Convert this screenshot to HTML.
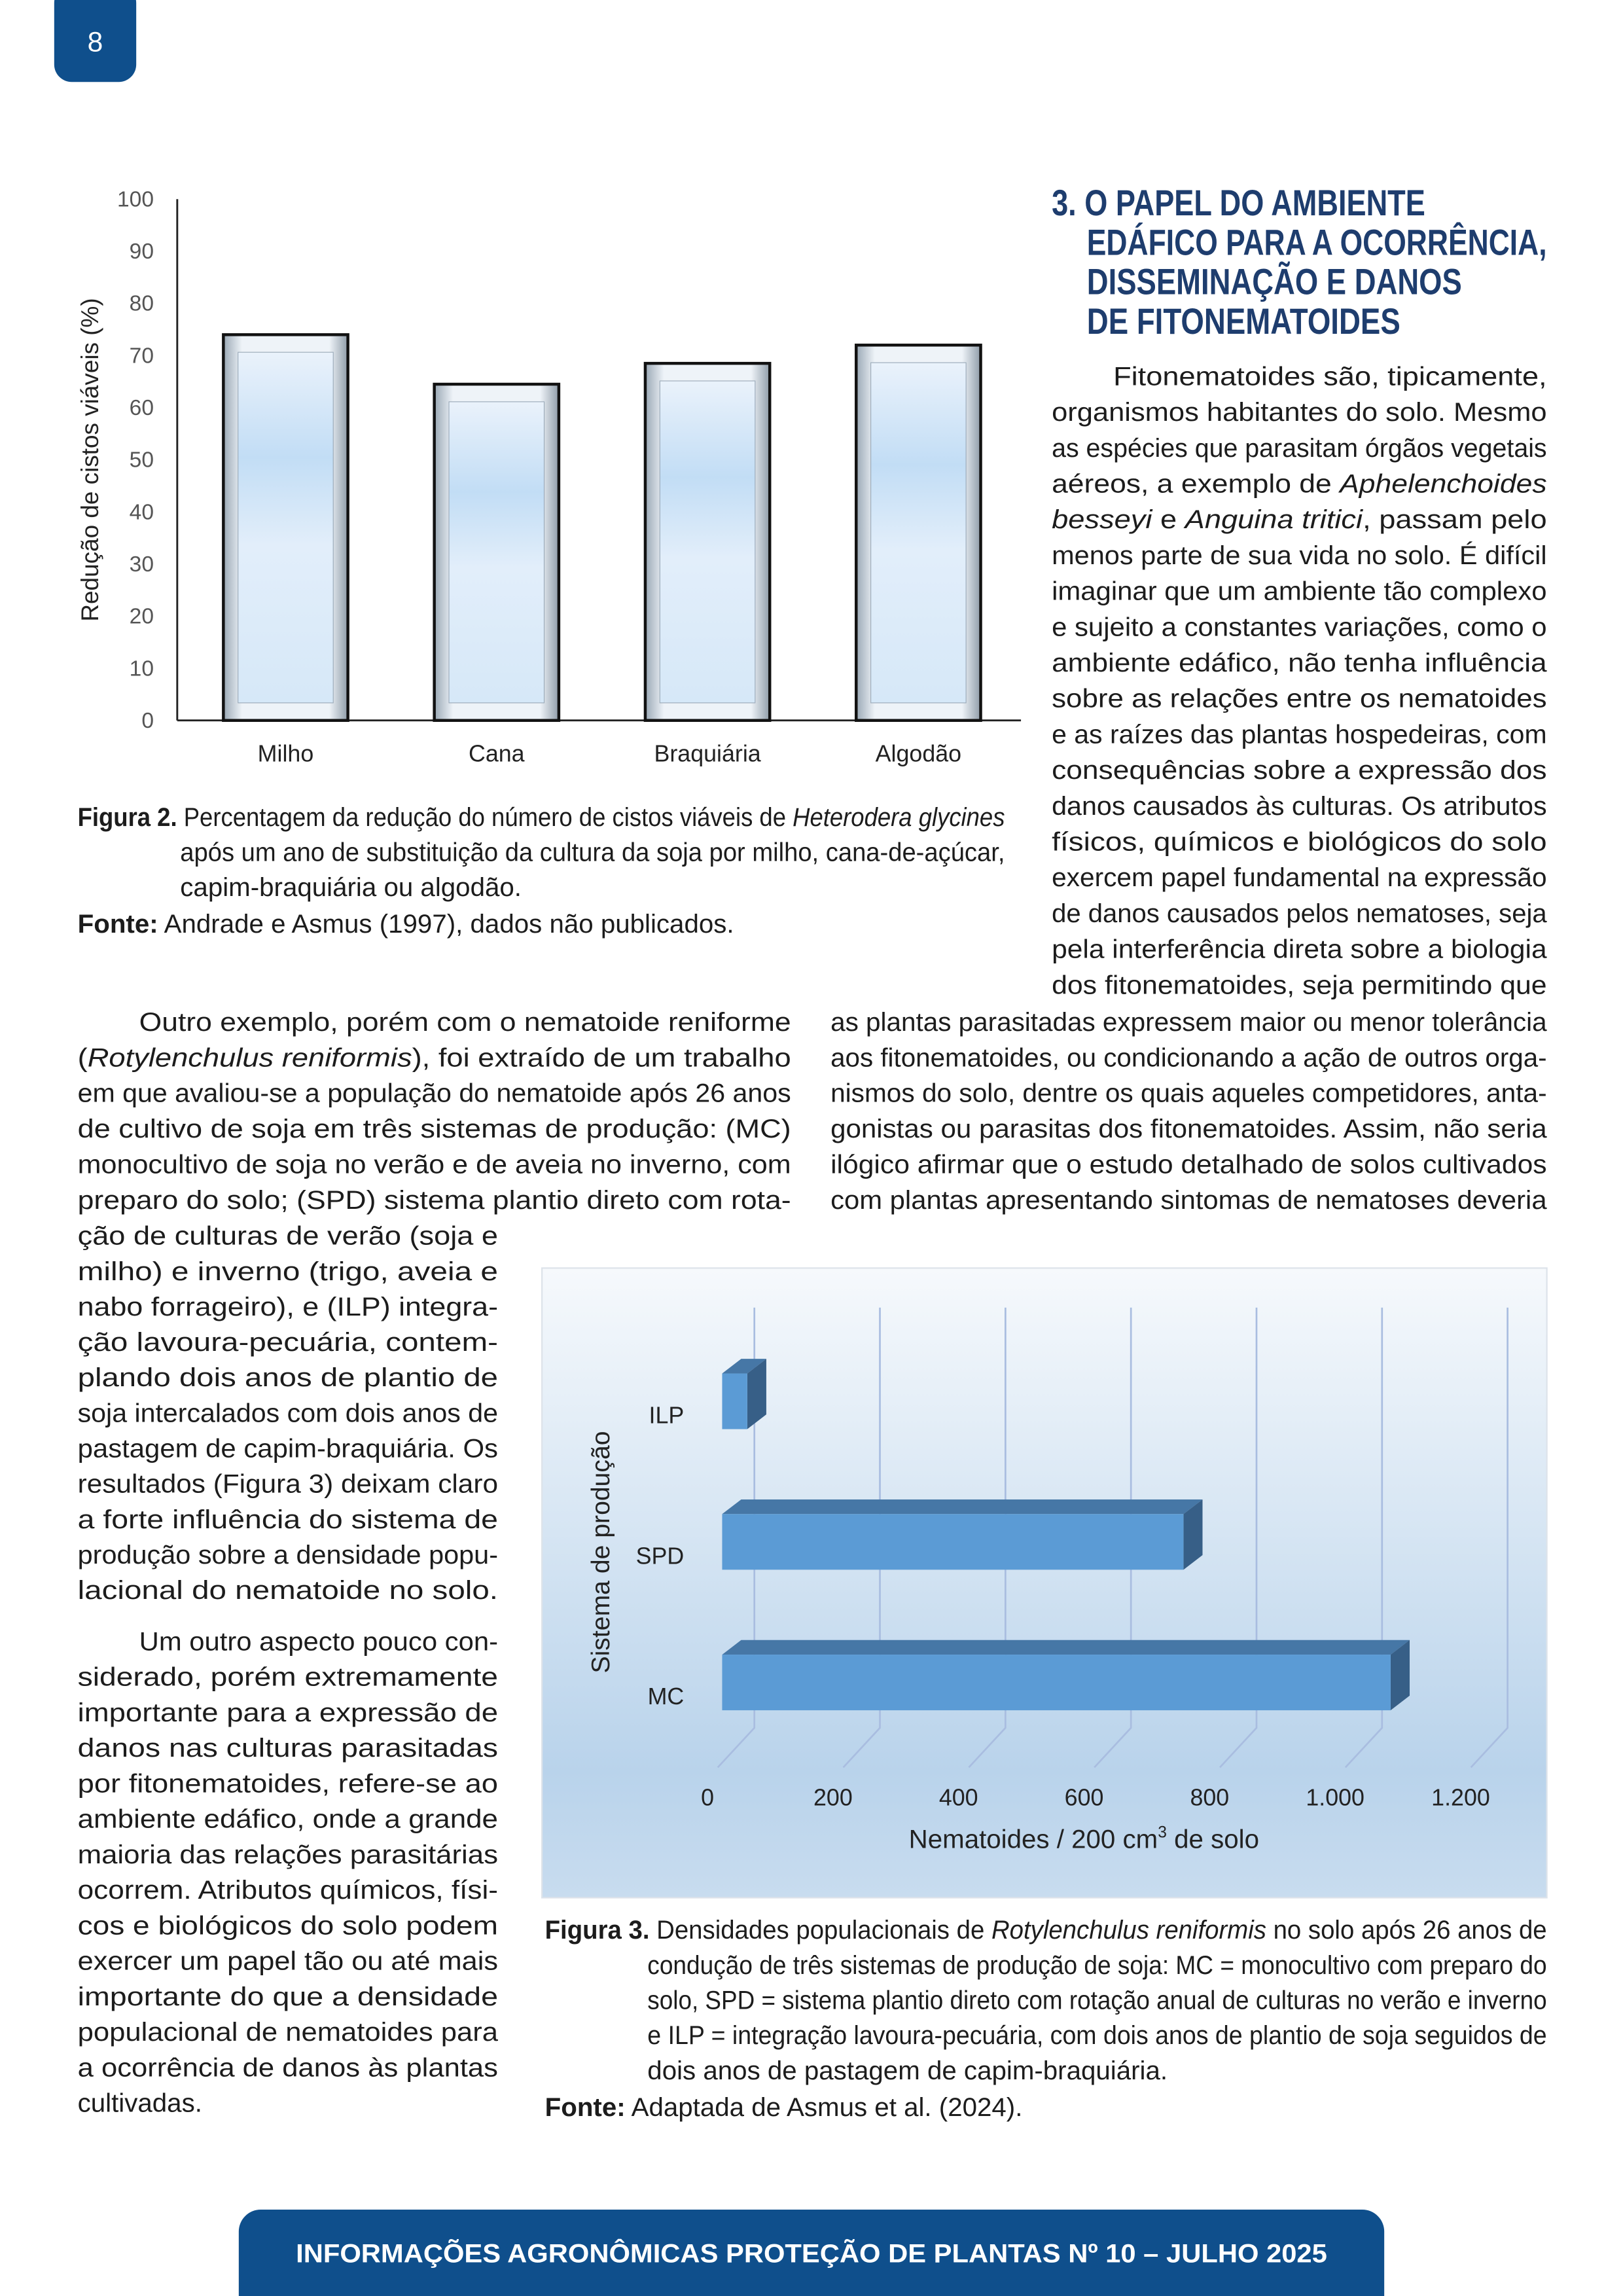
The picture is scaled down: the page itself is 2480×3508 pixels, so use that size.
<!DOCTYPE html>
<html><head><meta charset="utf-8"><style>
html,body{margin:0;padding:0;background:#fff}
svg{display:block}
.b{font-family:"Liberation Sans",sans-serif;font-size:18px;fill:#1c1c1c}
</style></head><body>
<svg id="pg" width="2480" height="3508" viewBox="0 0 1108 1568" preserveAspectRatio="none" xmlns="http://www.w3.org/2000/svg">
<defs>
<linearGradient id="bg2" x1="0" y1="0" x2="0" y2="1"><stop offset="0" stop-color="#f6f9fc"/><stop offset="0.8" stop-color="#b9d3eb"/><stop offset="1" stop-color="#c8dcef"/></linearGradient>
<linearGradient id="barIn" x1="0" y1="0" x2="0" y2="1"><stop offset="0" stop-color="#eaf2fb"/><stop offset="0.3" stop-color="#c2ddf5"/><stop offset="0.55" stop-color="#e2eefa"/><stop offset="1" stop-color="#d6e8f8"/></linearGradient>
<linearGradient id="barEdge" x1="0" y1="0" x2="1" y2="0"><stop offset="0" stop-color="#9aa8b5"/><stop offset="0.15" stop-color="#eef3f8"/><stop offset="0.85" stop-color="#eef3f8"/><stop offset="1" stop-color="#8f9ca8"/></linearGradient>
</defs>
<rect x="37" y="-10" width="56" height="66" rx="12" fill="#0f4f8c"/>
<text x="65" y="35" text-anchor="middle" font-family="Liberation Sans" font-size="19" fill="#fff">8</text>

<g id="chart1"></g>
<g id="chart2"></g>
<g id="txt"></g>

<g font-family="Liberation Sans Narrow,Liberation Sans,sans-serif" font-weight="bold" font-size="25" fill="#1e3d6e">
<text x="718" y="147" textLength="255" lengthAdjust="spacingAndGlyphs">3. O PAPEL DO AMBIENTE</text>
<text x="742" y="174" textLength="314" lengthAdjust="spacingAndGlyphs">EDÁFICO PARA A OCORRÊNCIA,</text>
<text x="742" y="201" textLength="256" lengthAdjust="spacingAndGlyphs">DISSEMINAÇÃO E DANOS</text>
<text x="742" y="228" textLength="214" lengthAdjust="spacingAndGlyphs">DE FITONEMATOIDES</text>
</g>

<path d="M163 1568 V1524 a15 15 0 0 1 15 -15 H930 a15 15 0 0 1 15 15 V1568 Z" fill="#0f4f8c"/>
<text x="554" y="1545" text-anchor="middle" font-family="Liberation Sans" font-weight="bold" font-size="18" fill="#fff" textLength="704" lengthAdjust="spacingAndGlyphs">INFORMAÇÕES AGRONÔMICAS PROTEÇÃO DE PLANTAS Nº 10 – JULHO 2025</text>
</svg>
<script>
const NS="http://www.w3.org/2000/svg";
// ---- Figure 2 data ----
const cats1=["Milho","Cana","Braquiária","Algodão"];
const vals1=[74,64.5,68.5,72];
const ticks1=[0,10,20,30,40,50,60,70,80,90,100];
// ---- Figure 3 data ----
const cats2=["MC","SPD","ILP"];
const vals2=[1065,735,40];
const ticks2=[0,200,400,600,800,1000,1200];
const tickLabels2=["0","200","400","600","800","1.000","1.200"];

function mk(tag,attrs,parent){const e=document.createElementNS(NS,tag);for(const k in attrs)e.setAttribute(k,attrs[k]);if(parent)parent.appendChild(e);return e;}

// Chart 1
(function(){
const g=document.getElementById('chart1');
const x0=121,x1=697,yb=492,yt=136;
const y=v=>yb-(v/100)*(yb-yt);
const bw=(x1-x0)/cats1.length;
let ax=mk('line',{x1:x0,y1:yt,x2:x0,y2:yb,stroke:'#222','stroke-width':1.3},g);

let bx=mk('line',{x1:x0,y1:yb,x2:x1,y2:yb,stroke:'#222','stroke-width':1.3},g);

ticks1.forEach(t=>{const e=mk('text',{x:105,y:y(t)+5,'text-anchor':'end','font-family':'Liberation Sans Narrow,Liberation Sans,sans-serif','font-size':15,fill:'#555'},g);e.textContent=t;
});
cats1.forEach((c,i)=>{
 const cx=x0+bw*(i+0.5),w=85,bx0=cx-w/2+2,top=y(vals1[i]);
 const bg=mk('g',{},g);
 mk('rect',{x:bx0,y:top,width:w,height:yb-top,fill:'url(#barEdge)',stroke:'#111','stroke-width':2},bg);
 mk('rect',{x:bx0+10,y:top+12,width:w-20,height:yb-top-24,fill:'url(#barIn)',stroke:'#9aa9b8','stroke-width':0.5},bg);
 const t=mk('text',{x:cx+2,y:520,'text-anchor':'middle','font-family':'Liberation Sans Narrow,Liberation Sans,sans-serif','font-size':16,fill:'#222'},g);t.textContent=c;
 
});
const yt1=mk('text',{x:0,y:0,transform:'translate(67,314) rotate(-90)','text-anchor':'middle','font-family':'Liberation Sans,sans-serif','font-size':16.5,fill:'#222'},g);
yt1.textContent='Redução de cistos viáveis (%)';

})();

// Chart 2
(function(){
const g=document.getElementById('chart2');
const bgR=mk('rect',{x:370,y:866,width:686,height:430,fill:'url(#bg2)',stroke:'#dde3ea','stroke-width':1},g);

const fx0=493,pxPer=85.7/200,dx=13,dy=-10;
const xv=v=>fx0+v*pxPer;
ticks2.forEach((t,i)=>{
 const gx=xv(t)+22;
 const gl=mk('path',{d:`M${gx} 893 V1180 L${gx-25} 1207`,stroke:'#a9bde0','stroke-width':1.2,fill:'none'},g);
 
 const tl=mk('text',{x:xv(t)-10,y:1233,'text-anchor':'middle','font-family':'Liberation Sans Narrow,Liberation Sans,sans-serif','font-size':16,fill:'#222'},g);tl.textContent=tickLabels2[i];
 
});
const rowY=[1149,1053,957];
cats2.forEach((c,i)=>{
 const h=38,y0=rowY[i]-h/2,x1=xv(vals2[i]);
 const bg=mk('g',{},g);
 mk('path',{d:`M${fx0} ${y0} L${fx0+dx} ${y0+dy} L${x1+dx} ${y0+dy} L${x1} ${y0} Z`,fill:'#4677a6'},bg);
 mk('path',{d:`M${x1} ${y0} L${x1+dx} ${y0+dy} L${x1+dx} ${y0+h+dy} L${x1} ${y0+h} Z`,fill:'#375f87'},bg);
 mk('rect',{x:fx0,y:y0,width:x1-fx0,height:h,fill:'#5b9bd5'},bg);
 const t=mk('text',{x:467,y:rowY[i]+15,'text-anchor':'end','font-family':'Liberation Sans Narrow,Liberation Sans,sans-serif','font-size':16,fill:'#222'},g);t.textContent=c;
 
});
const yt=mk('text',{x:0,y:0,transform:'translate(416,1060) rotate(-90)','text-anchor':'middle','font-family':'Liberation Sans,sans-serif','font-size':17.5,fill:'#222'},g);
yt.textContent='Sistema de produção';

const xt=mk('text',{x:740,y:1262,'text-anchor':'middle','font-family':'Liberation Sans Narrow,Liberation Sans,sans-serif','font-size':18,fill:'#222'},g);
xt.innerHTML='Nematoides / 200 cm<tspan dy="-7" font-size="11">3</tspan><tspan dy="7"> de solo</tspan>';

})();

// Body text
(function(){
const g=document.getElementById('txt');
function block(x,w,y0,step,lines,indent,lastFree,cls,name){
 lines.forEach((s,i)=>{
  const xi=(i===0?x+indent:x), wi=w-(i===0?indent:0);
  const a={x:xi,y:y0+i*step+6,class:cls||'b'};
  if(!(lastFree&&i===lines.length-1)){a.textLength=wi;a.lengthAdjust='spacingAndGlyphs';}
  const t=mk('text',a,g);t.innerHTML=s;
  
 });
}
block(718,338,257,24.45,["Fitonematoides são, tipicamente,","organismos habitantes do solo. Mesmo","as espécies que parasitam órgãos vegetais","aéreos, a exemplo de <tspan font-style='italic'>Aphelenchoides</tspan>","<tspan font-style='italic'>besseyi</tspan> e <tspan font-style='italic'>Anguina tritici</tspan>, passam pelo","menos parte de sua vida no solo. É difícil","imaginar que um ambiente tão complexo","e sujeito a constantes variações, como o","ambiente edáfico, não tenha influência","sobre as relações entre os nematoides","e as raízes das plantas hospedeiras, com","consequências sobre a expressão dos","danos causados às culturas. Os atributos","físicos, químicos e biológicos do solo","exercem papel fundamental na expressão","de danos causados pelos nematoses, seja","pela interferência direta sobre a biologia","dos fitonematoides, seja permitindo que"],42,false,'b','right-column-paragraph');
block(567,489,698,24.3,["as plantas parasitadas expressem maior ou menor tolerância","aos fitonematoides, ou condicionando a ação de outros orga-","nismos do solo, dentre os quais aqueles competidores, anta-","gonistas ou parasitas dos fitonematoides. Assim, não seria","ilógico afirmar que o estudo detalhado de solos cultivados","com plantas apresentando sintomas de nematoses deveria"],0,false,'b','right-column-paragraph-cont');
block(53,487,698,24.3,["Outro exemplo, porém com o nematoide reniforme","(<tspan font-style='italic'>Rotylenchulus reniformis</tspan>), foi extraído de um trabalho","em que avaliou-se a população do nematoide após 26 anos","de cultivo de soja em três sistemas de produção: (MC)","monocultivo de soja no verão e de aveia no inverno, com","preparo do solo; (SPD) sistema plantio direto com rota-"],42,false,'b','left-paragraph-1');
block(53,287,844,24.2,["ção de culturas de verão (soja e","milho) e inverno (trigo, aveia e","nabo forrageiro), e (ILP) integra-","ção lavoura-pecuária, contem-","plando dois anos de plantio de","soja intercalados com dois anos de","pastagem de capim-braquiária. Os","resultados (Figura 3) deixam claro","a forte influência do sistema de","produção sobre a densidade popu-","lacional do nematoide no solo."],0,false,'b','left-paragraph-1-cont');
block(53,287,1121,24.25,["Um outro aspecto pouco con-","siderado, porém extremamente","importante para a expressão de","danos nas culturas parasitadas","por fitonematoides, refere-se ao","ambiente edáfico, onde a grande","maioria das relações parasitárias","ocorrem. Atributos químicos, físi-","cos e biológicos do solo podem","exercer um papel tão ou até mais","importante do que a densidade","populacional de nematoides para","a ocorrência de danos às plantas","cultivadas."],42,true,'b','left-paragraph-2');
function cap(x,y,w,html,name,just){const a={x:x,y:y+5,class:'b','font-size':16};if(just){a.textLength=w;a.lengthAdjust='spacingAndGlyphs';}const t=mk('text',a,g);t.innerHTML=html;}
cap(53,559,633,"<tspan font-weight='bold'>Figura 2.</tspan> Percentagem da redução do número de cistos viáveis de <tspan font-style='italic'>Heterodera glycines</tspan>",'figure-2-caption',true);
cap(123,583,563,"após um ano de substituição da cultura da soja por milho, cana-de-açúcar,",'figure-2-caption',true);
cap(123,607,0,"capim-braquiária ou algodão.",'figure-2-caption',false);
cap(53,632,0,"<tspan font-weight='bold'>Fonte:</tspan> Andrade e Asmus (1997), dados não publicados.",'figure-2-source',false);
cap(372,1319,684,"<tspan font-weight='bold'>Figura 3.</tspan> Densidades populacionais de <tspan font-style='italic'>Rotylenchulus reniformis</tspan> no solo após 26 anos de",'figure-3-caption',true);
cap(442,1343,614,"condução de três sistemas de produção de soja: MC = monocultivo com preparo do",'figure-3-caption',true);
cap(442,1367,614,"solo, SPD = sistema plantio direto com rotação anual de culturas no verão e inverno",'figure-3-caption',true);
cap(442,1391,614,"e ILP = integração lavoura-pecuária, com dois anos de plantio de soja seguidos de",'figure-3-caption',true);
cap(442,1415,0,"dois anos de pastagem de capim-braquiária.",'figure-3-caption',false);
cap(372,1440,0,"<tspan font-weight='bold'>Fonte:</tspan> Adaptada de Asmus et al. (2024).",'figure-3-source',false);
})();
</script>
</body></html>
